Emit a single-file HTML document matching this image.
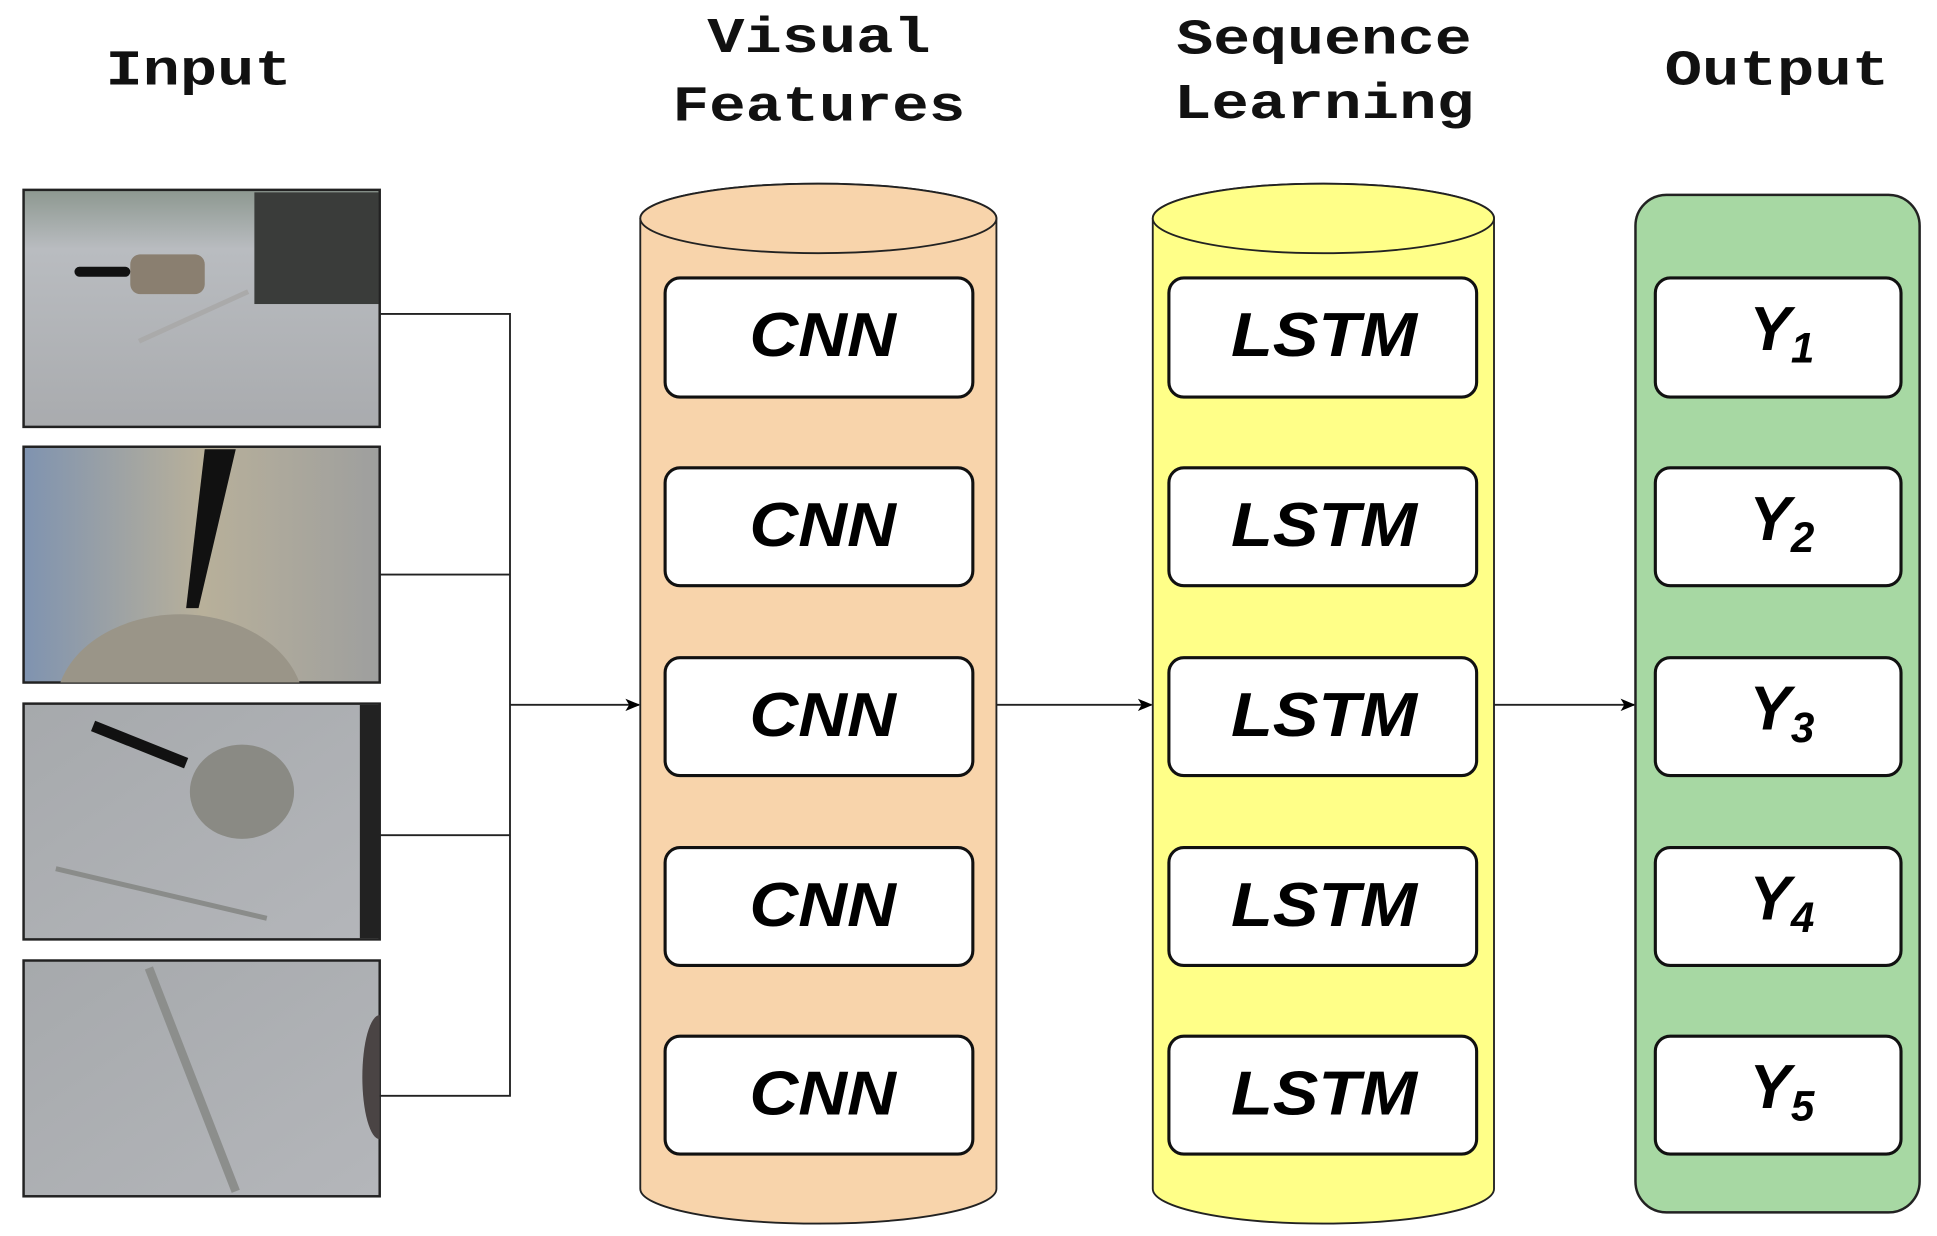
<!DOCTYPE html>
<html><head><meta charset="utf-8"><style>
html,body{margin:0;padding:0;background:#fff;width:1937px;height:1236px;overflow:hidden}
svg{display:block}
.t{font-family:"Liberation Mono",monospace;font-weight:bold;font-size:40px;fill:#111;text-anchor:middle}
.b{font-family:"Liberation Sans",sans-serif;font-weight:bold;font-style:italic;font-size:50px;fill:#000;text-anchor:middle}
</style></head><body>
<svg width="1937" height="1236" viewBox="0 0 1561 996" preserveAspectRatio="none" xmlns="http://www.w3.org/2000/svg">
<defs>
<linearGradient id="g1" x1="0" y1="0" x2="0" y2="1"><stop offset="0" stop-color="#8d9890"/><stop offset="0.25" stop-color="#b9bcc0"/><stop offset="1" stop-color="#a9abae"/></linearGradient>
<linearGradient id="g2" x1="0" y1="0" x2="1" y2="0"><stop offset="0" stop-color="#7f93b0"/><stop offset="0.5" stop-color="#b8b09a"/><stop offset="1" stop-color="#9e9f9e"/></linearGradient>
<linearGradient id="g3" x1="0" y1="0" x2="1" y2="1"><stop offset="0" stop-color="#a6a9ac"/><stop offset="1" stop-color="#b4b6ba"/></linearGradient>
<clipPath id="c2"><rect x="19" y="360" width="287" height="190"/></clipPath>
<clipPath id="c4"><rect x="19" y="774" width="287" height="190"/></clipPath>
<marker id="ar" markerWidth="12" markerHeight="10" refX="11" refY="5" orient="auto" markerUnits="userSpaceOnUse"><path d="M0,0 L12,5 L0,10 L3,5 z" fill="#000"/></marker>
</defs>
<text class="t" x="160" y="68" textLength="150" lengthAdjust="spacingAndGlyphs">Input</text>
<text class="t" x="660" y="42" textLength="180" lengthAdjust="spacingAndGlyphs">Visual</text>
<text class="t" x="660" y="97" textLength="236" lengthAdjust="spacingAndGlyphs">Features</text>
<text class="t" x="1067" y="43" textLength="238" lengthAdjust="spacingAndGlyphs">Sequence</text>
<text class="t" x="1067" y="95" textLength="242" lengthAdjust="spacingAndGlyphs">Learning</text>
<text class="t" x="1432" y="68" textLength="181" lengthAdjust="spacingAndGlyphs">Output</text>

<!-- photos -->
<rect x="19" y="153" width="287" height="191" fill="url(#g1)" stroke="#222" stroke-width="2"/>
<rect x="205" y="155" width="100" height="90" fill="#3a3c3a"/>
<rect x="105" y="205" width="60" height="32" rx="8" fill="#8a7f70"/>
<rect x="60" y="215" width="45" height="8" rx="4" fill="#111"/>
<line x1="112" y1="275" x2="200" y2="235" stroke="#aaa" stroke-width="4"/>
<rect x="19" y="360" width="287" height="190" fill="url(#g2)" stroke="#222" stroke-width="2"/>
<g clip-path="url(#c2)">
<path d="M165,362 L190,362 L160,490 L150,490 z" fill="#111"/>
<ellipse cx="145" cy="570" rx="100" ry="75" fill="#9a9588"/>
</g>
<rect x="19" y="567" width="287" height="190" fill="url(#g3)" stroke="#222" stroke-width="2"/>
<rect x="290" y="568" width="16" height="188" fill="#222"/>
<ellipse cx="195" cy="638" rx="42" ry="38" fill="#8a8a84"/>
<line x1="75" y1="585" x2="150" y2="615" stroke="#111" stroke-width="9"/>
<line x1="45" y1="700" x2="215" y2="740" stroke="#8a8c8a" stroke-width="4"/>
<rect x="19" y="774" width="287" height="190" fill="url(#g3)" stroke="#222" stroke-width="2"/>
<g clip-path="url(#c4)">
<line x1="120" y1="780" x2="190" y2="960" stroke="#8c8e8c" stroke-width="7"/>
<ellipse cx="306" cy="868" rx="14" ry="50" fill="#4a4444"/>
</g>

<!-- connectors -->
<g stroke="#222" stroke-width="1.5" fill="none">
<path d="M306,253 H411 V883 H306"/>
<path d="M306,463 H411"/>
<path d="M306,673 H411"/>
<path d="M411,568 H515" marker-end="url(#ar)"/>
<path d="M803,568 H928" marker-end="url(#ar)"/>
<path d="M1204,568 H1317" marker-end="url(#ar)"/>
</g>

<!-- cylinder 1 -->
<path d="M516,176 V958 A143.5,28 0 0 0 803,958 V176 A143.5,28 0 0 0 516,176 z" fill="#f8d4ab" stroke="#222" stroke-width="1.5"/>
<ellipse cx="659.5" cy="176" rx="143.5" ry="28" fill="#f8d4ab" stroke="#222" stroke-width="1.5"/>
<!-- cylinder 2 -->
<path d="M929,176 V958 A137.5,28 0 0 0 1204,958 V176 A137.5,28 0 0 0 929,176 z" fill="#ffff88" stroke="#222" stroke-width="1.5"/>
<ellipse cx="1066.5" cy="176" rx="137.5" ry="28" fill="#ffff88" stroke="#222" stroke-width="1.5"/>
<!-- output -->
<rect x="1318" y="157" width="229" height="820" rx="25" fill="#a7d8a3" stroke="#222" stroke-width="2"/>

<g stroke="#111" stroke-width="2.5" fill="#fff">
<rect x="536" y="224" width="248" height="96" rx="12"/>
<rect x="536" y="377" width="248" height="95" rx="12"/>
<rect x="536" y="530" width="248" height="95" rx="12"/>
<rect x="536" y="683" width="248" height="95" rx="12"/>
<rect x="536" y="835" width="248" height="95" rx="12"/>
<rect x="942" y="224" width="248" height="96" rx="12"/>
<rect x="942" y="377" width="248" height="95" rx="12"/>
<rect x="942" y="530" width="248" height="95" rx="12"/>
<rect x="942" y="683" width="248" height="95" rx="12"/>
<rect x="942" y="835" width="248" height="95" rx="12"/>
<rect x="1334" y="224" width="198" height="96" rx="12"/>
<rect x="1334" y="377" width="198" height="95" rx="12"/>
<rect x="1334" y="530" width="198" height="95" rx="12"/>
<rect x="1334" y="683" width="198" height="95" rx="12"/>
<rect x="1334" y="835" width="198" height="95" rx="12"/>
</g>
<g>
<text class="b" x="663" y="287" textLength="118" lengthAdjust="spacingAndGlyphs">CNN</text>
<text class="b" x="663" y="440" textLength="118" lengthAdjust="spacingAndGlyphs">CNN</text>
<text class="b" x="663" y="593" textLength="118" lengthAdjust="spacingAndGlyphs">CNN</text>
<text class="b" x="663" y="746" textLength="118" lengthAdjust="spacingAndGlyphs">CNN</text>
<text class="b" x="663" y="898" textLength="118" lengthAdjust="spacingAndGlyphs">CNN</text>
<text class="b" x="1067" y="287" textLength="150" lengthAdjust="spacingAndGlyphs">LSTM</text>
<text class="b" x="1067" y="440" textLength="150" lengthAdjust="spacingAndGlyphs">LSTM</text>
<text class="b" x="1067" y="593" textLength="150" lengthAdjust="spacingAndGlyphs">LSTM</text>
<text class="b" x="1067" y="746" textLength="150" lengthAdjust="spacingAndGlyphs">LSTM</text>
<text class="b" x="1067" y="898" textLength="150" lengthAdjust="spacingAndGlyphs">LSTM</text>
<text class="b" x="1436" y="282">Y<tspan font-size="34" dy="10">1</tspan></text>
<text class="b" x="1436" y="435">Y<tspan font-size="34" dy="10">2</tspan></text>
<text class="b" x="1436" y="588">Y<tspan font-size="34" dy="10">3</tspan></text>
<text class="b" x="1436" y="741">Y<tspan font-size="34" dy="10">4</tspan></text>
<text class="b" x="1436" y="893">Y<tspan font-size="34" dy="10">5</tspan></text>
</g>
</svg>
</body></html>
